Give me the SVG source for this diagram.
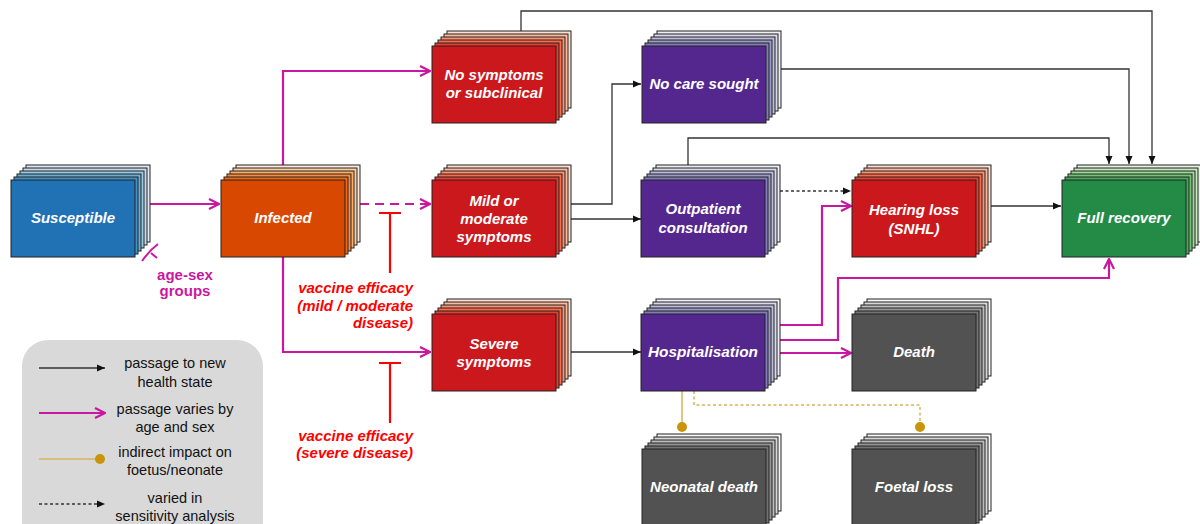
<svg xmlns="http://www.w3.org/2000/svg" width="1200" height="524" viewBox="0 0 1200 524">
<style>
.l{stroke:#222;stroke-width:1}
.bl{fill:#fff;font-family:"Liberation Sans",Arial,sans-serif;font-weight:bold;font-style:italic;font-size:15px;text-anchor:middle}
.k{fill:none;stroke:#333;stroke-width:1.3}
.m{fill:none;stroke:#c8189f;stroke-width:2.2}
.ve{fill:#ff0000;font-family:"Liberation Sans",Arial,sans-serif;font-weight:bold;font-style:italic;font-size:15px;text-anchor:end}
.lg{fill:#111;font-family:"Liberation Sans",Arial,sans-serif;font-size:14.5px;text-anchor:middle}
.g{fill:none;stroke:#d8b35a;stroke-width:1.5}
.b5{fill:#deebf7}.b4{fill:#c6dbef}.b3{fill:#9ecae1}.b2{fill:#6baed6}.b1{fill:#4292c6}.b0{fill:#2171b5}
.o5{fill:#feedde}.o4{fill:#fdd0a2}.o3{fill:#fdae6b}.o2{fill:#fd8d3c}.o1{fill:#f16913}.o0{fill:#d94801}
.r5{fill:#fee0d2}.r4{fill:#fcbba1}.r3{fill:#fc9272}.r2{fill:#fb6a4a}.r1{fill:#ef3b2c}.r0{fill:#cb181d}
.p5{fill:#efedf5}.p4{fill:#dadaeb}.p3{fill:#bcbddc}.p2{fill:#9e9ac8}.p1{fill:#807dba}.p0{fill:#54278f}
.y5{fill:#f7f7f7}.y4{fill:#d9d9d9}.y3{fill:#bdbdbd}.y2{fill:#969696}.y1{fill:#737373}.y0{fill:#525252}
.e5{fill:#e5f5e0}.e4{fill:#c7e9c0}.e3{fill:#a1d99b}.e2{fill:#74c476}.e1{fill:#41ab5d}.e0{fill:#238b45}
</style>
<defs>
<marker id="ab" viewBox="0 0 8 8" refX="8" refY="4" markerWidth="8" markerHeight="8" orient="auto" markerUnits="userSpaceOnUse"><path d="M0,0.5 L8,4 L0,7.5 z" fill="#111"/></marker>
<marker id="am" viewBox="0 0 12 12" refX="11" refY="6" markerWidth="12" markerHeight="12" orient="auto" markerUnits="userSpaceOnUse"><path d="M1,1 L11,6 L1,11" fill="none" stroke="#c8189f" stroke-width="2.2"/></marker>
</defs>

<!-- legend -->
<g id="legend">
<rect x="22" y="340" width="241" height="210" rx="26" fill="#d9d9d9"/>
<path d="M39,368 H105" class="k" stroke="#111" marker-end="url(#ab)"/>
<text class="lg" x="175" y="368">passage to new</text>
<text class="lg" x="175" y="387">health state</text>
<path d="M39,413 H105" class="m" marker-end="url(#am)"/>
<text class="lg" x="175" y="414">passage varies by</text>
<text class="lg" x="175" y="432">age and sex</text>
<path d="M39,459 H96" class="g"/>
<circle cx="100" cy="459" r="5" fill="#c9940a"/>
<text class="lg" x="175" y="457">indirect impact on</text>
<text class="lg" x="175" y="475">foetus/neonate</text>
<path d="M39,504 H105" class="k" stroke="#111" stroke-dasharray="3,2.5" marker-end="url(#ab)"/>
<text class="lg" x="175" y="503">varied in</text>
<text class="lg" x="175" y="521">sensitivity analysis</text>
</g>

<!-- connectors -->
<g id="connectors">
<path class="m" d="M150,204 H219" marker-end="url(#am)"/>
<path class="m" d="M283,165 V71 H430" marker-end="url(#am)"/>
<path class="m" d="M360,204 H430" stroke-dasharray="9,6" marker-end="url(#am)"/>
<path class="m" d="M283,257 V352 H430" marker-end="url(#am)"/>
<path class="k" d="M570,204 H612 V84 H641" marker-end="url(#ab)"/>
<path class="k" d="M570,219 H641" marker-end="url(#ab)"/>
<path class="k" d="M570,352 H641" marker-end="url(#ab)"/>
<path class="k" d="M521,31 V11 H1152 V164" marker-end="url(#ab)"/>
<path class="k" d="M780,69 H1129 V164" marker-end="url(#ab)"/>
<path class="k" d="M688,165 V138 H1109 V164" marker-end="url(#ab)"/>
<path class="k" d="M780,191 H851" stroke="#555" stroke-dasharray="3,2.5" marker-end="url(#ab)"/>
<path class="k" d="M990,206 H1061" marker-end="url(#ab)"/>
<path class="m" d="M780,325 H822 V206 H851" marker-end="url(#am)"/>
<path class="m" d="M780,340 H838 V278 H1109 V259" marker-end="url(#am)"/>
<path class="m" d="M780,353 H851" marker-end="url(#am)"/>
<path class="g" d="M682,391 V423"/>
<circle cx="682" cy="427" r="5" fill="#c9940a"/>
<path class="g" d="M694,391 V405 H920 V423" stroke-dasharray="3,2.5"/>
<circle cx="920" cy="427" r="5" fill="#c9940a"/>
<!-- vaccine efficacy blockers -->
<path d="M379,213 H401 M390,213 V273" stroke="#ff0000" stroke-width="2.2" fill="none"/>
<path d="M379,363 H401 M390,363 V423" stroke="#ff0000" stroke-width="2.2" fill="none"/>
<!-- age-sex marker -->
<path d="M142,261 Q150,250 158,244 M151,253 L157,258" stroke="#c8189f" stroke-width="2" fill="none"/>
</g>

<text class="ve" x="413" y="293">vaccine efficacy</text>
<text class="ve" x="413" y="311">(mild / moderate</text>
<text class="ve" x="413" y="328">disease)</text>
<text class="ve" x="413" y="441">vaccine efficacy</text>
<text class="ve" x="413" y="458">(severe disease)</text>
<text x="185" y="280" fill="#c8189f" font-family="Liberation Sans,Arial,sans-serif" font-weight="bold" font-size="15" text-anchor="middle">age-sex</text>
<text x="185" y="296" fill="#c8189f" font-family="Liberation Sans,Arial,sans-serif" font-weight="bold" font-size="15" text-anchor="middle">groups</text>

<!-- nodes -->
<g id="susceptible">
<rect class="l b5" x="26" y="165" width="124" height="77"/><rect class="l b4" x="23" y="168" width="124" height="77"/><rect class="l b3" x="20" y="171" width="124" height="77"/><rect class="l b2" x="17" y="174" width="124" height="77"/><rect class="l b1" x="14" y="177" width="124" height="77"/><rect class="l b0" x="11" y="180" width="124" height="77"/>
<text class="bl" x="73" y="223">Susceptible</text>
</g>
<g id="infected">
<rect class="l o5" x="236" y="165" width="124" height="77"/><rect class="l o4" x="233" y="168" width="124" height="77"/><rect class="l o3" x="230" y="171" width="124" height="77"/><rect class="l o2" x="227" y="174" width="124" height="77"/><rect class="l o1" x="224" y="177" width="124" height="77"/><rect class="l o0" x="221" y="180" width="124" height="77"/>
<text class="bl" x="283" y="223">Infected</text>
</g>
<g id="nosymptoms">
<rect class="l r5" x="447" y="31" width="124" height="77"/><rect class="l r4" x="444" y="34" width="124" height="77"/><rect class="l r3" x="441" y="37" width="124" height="77"/><rect class="l r2" x="438" y="40" width="124" height="77"/><rect class="l r1" x="435" y="43" width="124" height="77"/><rect class="l r0" x="432" y="46" width="124" height="77"/>
<text class="bl" x="494" y="80">No symptoms</text>
<text class="bl" x="494" y="98">or subclinical</text>
</g>
<g id="mild">
<rect class="l r5" x="447" y="165" width="124" height="77"/><rect class="l r4" x="444" y="168" width="124" height="77"/><rect class="l r3" x="441" y="171" width="124" height="77"/><rect class="l r2" x="438" y="174" width="124" height="77"/><rect class="l r1" x="435" y="177" width="124" height="77"/><rect class="l r0" x="432" y="180" width="124" height="77"/>
<text class="bl" x="494" y="206">Mild or</text>
<text class="bl" x="494" y="224">moderate</text>
<text class="bl" x="494" y="242">symptoms</text>
</g>
<g id="severe">
<rect class="l r5" x="447" y="299" width="124" height="77"/><rect class="l r4" x="444" y="302" width="124" height="77"/><rect class="l r3" x="441" y="305" width="124" height="77"/><rect class="l r2" x="438" y="308" width="124" height="77"/><rect class="l r1" x="435" y="311" width="124" height="77"/><rect class="l r0" x="432" y="314" width="124" height="77"/>
<text class="bl" x="494" y="349">Severe</text>
<text class="bl" x="494" y="367">symptoms</text>
</g>
<g id="nocare">
<rect class="l p5" x="657" y="31" width="124" height="77"/><rect class="l p4" x="654" y="34" width="124" height="77"/><rect class="l p3" x="651" y="37" width="124" height="77"/><rect class="l p2" x="648" y="40" width="124" height="77"/><rect class="l p1" x="645" y="43" width="124" height="77"/><rect class="l p0" x="642" y="46" width="124" height="77"/>
<text class="bl" x="704" y="89">No care sought</text>
</g>
<g id="outpatient">
<rect class="l p5" x="656" y="165" width="124" height="77"/><rect class="l p4" x="653" y="168" width="124" height="77"/><rect class="l p3" x="650" y="171" width="124" height="77"/><rect class="l p2" x="647" y="174" width="124" height="77"/><rect class="l p1" x="644" y="177" width="124" height="77"/><rect class="l p0" x="641" y="180" width="124" height="77"/>
<text class="bl" x="703" y="214">Outpatient</text>
<text class="bl" x="703" y="233">consultation</text>
</g>
<g id="hospitalisation">
<rect class="l p5" x="656" y="299" width="124" height="77"/><rect class="l p4" x="653" y="302" width="124" height="77"/><rect class="l p3" x="650" y="305" width="124" height="77"/><rect class="l p2" x="647" y="308" width="124" height="77"/><rect class="l p1" x="644" y="311" width="124" height="77"/><rect class="l p0" x="641" y="314" width="124" height="77"/>
<text class="bl" x="703" y="357" textLength="110" lengthAdjust="spacingAndGlyphs">Hospitalisation</text>
</g>
<g id="hearing">
<rect class="l r5" x="867" y="165" width="124" height="77"/><rect class="l r4" x="864" y="168" width="124" height="77"/><rect class="l r3" x="861" y="171" width="124" height="77"/><rect class="l r2" x="858" y="174" width="124" height="77"/><rect class="l r1" x="855" y="177" width="124" height="77"/><rect class="l r0" x="852" y="180" width="124" height="77"/>
<text class="bl" x="914" y="215">Hearing loss</text>
<text class="bl" x="914" y="234">(SNHL)</text>
</g>
<g id="death">
<rect class="l y5" x="867" y="299" width="124" height="77"/><rect class="l y4" x="864" y="302" width="124" height="77"/><rect class="l y3" x="861" y="305" width="124" height="77"/><rect class="l y2" x="858" y="308" width="124" height="77"/><rect class="l y1" x="855" y="311" width="124" height="77"/><rect class="l y0" x="852" y="314" width="124" height="77"/>
<text class="bl" x="914" y="357">Death</text>
</g>
<g id="fullrecovery">
<rect class="l e5" x="1077" y="165" width="124" height="77"/><rect class="l e4" x="1074" y="168" width="124" height="77"/><rect class="l e3" x="1071" y="171" width="124" height="77"/><rect class="l e2" x="1068" y="174" width="124" height="77"/><rect class="l e1" x="1065" y="177" width="124" height="77"/><rect class="l e0" x="1062" y="180" width="124" height="77"/>
<text class="bl" x="1124" y="223">Full recovery</text>
</g>
<g id="neonatal">
<rect class="l y5" x="657" y="434" width="124" height="77"/><rect class="l y4" x="654" y="437" width="124" height="77"/><rect class="l y3" x="651" y="440" width="124" height="77"/><rect class="l y2" x="648" y="443" width="124" height="77"/><rect class="l y1" x="645" y="446" width="124" height="77"/><rect class="l y0" x="642" y="449" width="124" height="77"/>
<text class="bl" x="704" y="492" textLength="108" lengthAdjust="spacingAndGlyphs">Neonatal death</text>
</g>
<g id="foetal">
<rect class="l y5" x="867" y="434" width="124" height="77"/><rect class="l y4" x="864" y="437" width="124" height="77"/><rect class="l y3" x="861" y="440" width="124" height="77"/><rect class="l y2" x="858" y="443" width="124" height="77"/><rect class="l y1" x="855" y="446" width="124" height="77"/><rect class="l y0" x="852" y="449" width="124" height="77"/>
<text class="bl" x="914" y="492">Foetal loss</text>
</g>
</svg>
